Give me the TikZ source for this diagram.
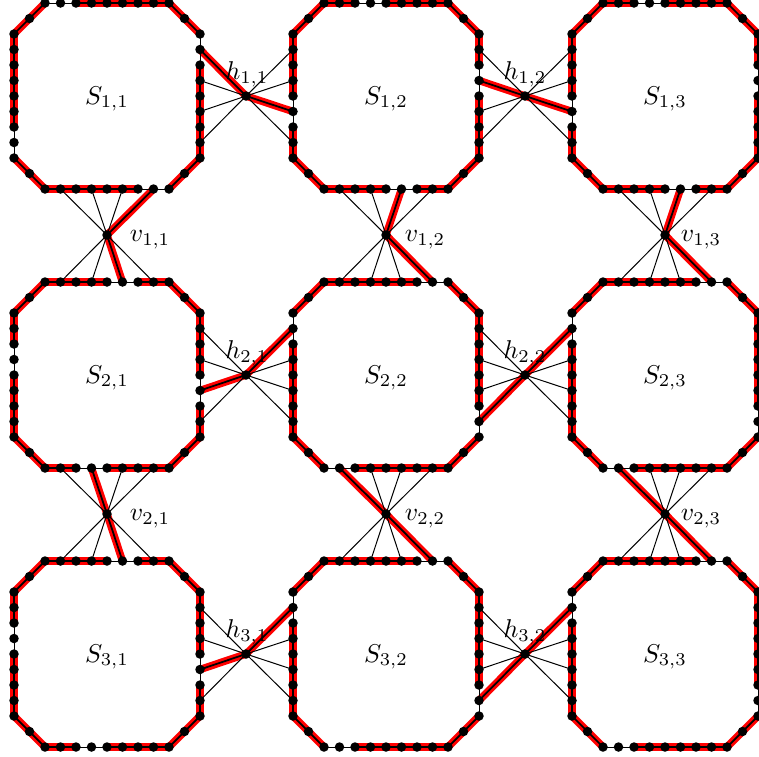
\documentclass[tikz,border=0pt]{standalone}
\usepackage{xcolor}
\usepackage{tikz}
\usetikzlibrary{backgrounds}

%% nine nodes of one side: #1 square, #2 side, #3 first x, #4 first y, #5 dx, #6 dy
\newcommand{\sidenodes}[6]{%
  \foreach \k in {0,...,8} {
    \node[dot] (#1#2\k) at ({#3+#5*\k}, {#4+#6*\k}) {};
  }
}

%% nodes of one octagon: #1 name, #2 centre x, #3 centre y
\newcommand{\octagon}[3]{%
  \sidenodes{#1}{t}{#2-62}{#3-93}{15.5}{0}
  \sidenodes{#1}{r}{#2+93}{#3-62}{0}{15.5}
  \sidenodes{#1}{b}{#2-62}{#3+93}{15.5}{0}
  \sidenodes{#1}{l}{#2-93}{#3-62}{0}{15.5}
  \node[dot] (#1ne) at (#2+77.5, #3-77.5) {};
  \node[dot] (#1se) at (#2+77.5, #3+77.5) {};
  \node[dot] (#1sw) at (#2-77.5, #3+77.5) {};
  \node[dot] (#1nw) at (#2-77.5, #3-77.5) {};
}

%% edges along one side: #1 square, #2 side, #3 node left out of the band
\newcommand{\sideedges}[3]{%
  \foreach \k [evaluate=\k as \m using int(\k+1)] in {0,...,7} {
    \ifnum\k=#3\relax
      \draw[edge] (#1#2\k.center) -- (#1#2\m.center);
    \else\ifnum\m=#3\relax
      \draw[edge] (#1#2\k.center) -- (#1#2\m.center);
    \else
      \draw[link] (#1#2\k.center) -- (#1#2\m.center);
    \fi\fi
  }
}

%% edges of one octagon: #1 name, #2 free node top/right, #3 free node bottom/left
\newcommand{\ring}[3]{%
  \sideedges{#1}{t}{#2}
  \sideedges{#1}{r}{#2}
  \sideedges{#1}{b}{#3}
  \sideedges{#1}{l}{#3}
  \draw[link] (#1t8.center) -- (#1ne.center) -- (#1r0.center);
  \draw[link] (#1r8.center) -- (#1se.center) -- (#1b8.center);
  \draw[link] (#1b0.center) -- (#1sw.center) -- (#1l8.center);
  \draw[link] (#1l0.center) -- (#1nw.center) -- (#1t0.center);
}

%% spokes from a hub: #1 hub, #2 square and side, #3 the picked one
\newcommand{\spokes}[3]{%
  \foreach \k in {1,3,5,7} {
    \ifnum\k=#3\relax
      \draw[link] (#1.center) -- (#2\k.center);
    \else
      \draw[edge] (#1.center) -- (#2\k.center);
    \fi
  }
}

%% every connector of the picture
\newcommand{\allconnectors}{%
  \ring{sa}{1}{7}
  \ring{sb}{3}{5}
  \ring{sc}{3}{5}
  \ring{sd}{5}{3}
  \ring{se}{7}{1}
  \ring{sf}{7}{1}
  \ring{sg}{5}{3}
  \ring{sh}{7}{1}
  \ring{si}{7}{1}
  \spokes{h11}{sar}{1} \spokes{h11}{sbl}{5}
  \spokes{h12}{sbr}{3} \spokes{h12}{scl}{5}
  \spokes{h21}{sdr}{5} \spokes{h21}{sel}{1}
  \spokes{h22}{ser}{7} \spokes{h22}{sfl}{1}
  \spokes{h31}{sgr}{5} \spokes{h31}{shl}{1}
  \spokes{h32}{shr}{7} \spokes{h32}{sil}{1}
  \spokes{v11}{sab}{7} \spokes{v11}{sdt}{5}
  \spokes{v12}{sbb}{5} \spokes{v12}{set}{7}
  \spokes{v13}{scb}{5} \spokes{v13}{sft}{7}
  \spokes{v21}{sdb}{3} \spokes{v21}{sgt}{5}
  \spokes{v22}{seb}{1} \spokes{v22}{sht}{7}
  \spokes{v23}{sfb}{1} \spokes{v23}{sit}{7}
}

\begin{document}
\begin{tikzpicture}[
  x=0.4pt, y=-0.4pt,
  dot/.style={circle, fill=black, minimum size=3.8pt, inner sep=0pt, outer sep=0pt},
  thinline/.style={black, line width=0.4pt},
  band/.style={red, line width=3pt},
  core/.style={black, line width=0.7pt},
  tag/.style={inner sep=0pt, scale=1.03}
]
\useasboundingbox (0,0) rectangle (759,756);

%% Squares
\octagon{sa}{107}{96}
\octagon{sb}{386}{96}
\octagon{sc}{665}{96}
\octagon{sd}{107}{375}
\octagon{se}{386}{375}
\octagon{sf}{665}{375}
\octagon{sg}{107}{654}
\octagon{sh}{386}{654}
\octagon{si}{665}{654}

%% Horizontal hubs
\node[dot] (h11) at (246, 96)  {};
\node[dot] (h12) at (525, 96)  {};
\node[dot] (h21) at (246, 375) {};
\node[dot] (h22) at (525, 375) {};
\node[dot] (h31) at (246, 654) {};
\node[dot] (h32) at (525, 654) {};

%% Vertical hubs
\node[dot] (v11) at (107, 235) {};
\node[dot] (v12) at (386, 235) {};
\node[dot] (v13) at (665, 235) {};
\node[dot] (v21) at (107, 514) {};
\node[dot] (v22) at (386, 514) {};
\node[dot] (v23) at (665, 514) {};

%% Connectors, red first and black over it
\begin{pgfonlayer}{background}
  \begin{scope}[link/.style={band}, edge/.style={draw=none}]
    \allconnectors
  \end{scope}
  \begin{scope}[link/.style={core}, edge/.style={thinline}]
    \allconnectors
  \end{scope}
\end{pgfonlayer}

%% Square labels
\node[tag] (ls11) at (107, 99)  {$S_{1,1}$};
\node[tag] (ls12) at (386, 99)  {$S_{1,2}$};
\node[tag] (ls13) at (665, 99)  {$S_{1,3}$};
\node[tag] (ls21) at (107, 378) {$S_{2,1}$};
\node[tag] (ls22) at (386, 378) {$S_{2,2}$};
\node[tag] (ls23) at (665, 378) {$S_{2,3}$};
\node[tag] (ls31) at (107, 657) {$S_{3,1}$};
\node[tag] (ls32) at (386, 657) {$S_{3,2}$};
\node[tag] (ls33) at (665, 657) {$S_{3,3}$};

%% Hub labels
\node[tag] (lh11) at (247, 74)  {$h_{1,1}$};
\node[tag] (lh12) at (525, 74)  {$h_{1,2}$};
\node[tag] (lh21) at (247, 353) {$h_{2,1}$};
\node[tag] (lh22) at (525, 353) {$h_{2,2}$};
\node[tag] (lh31) at (247, 632) {$h_{3,1}$};
\node[tag] (lh32) at (525, 632) {$h_{3,2}$};
\node[tag] (lv11) at (150, 240) {$v_{1,1}$};
\node[tag] (lv12) at (425, 240) {$v_{1,2}$};
\node[tag] (lv13) at (701, 240) {$v_{1,3}$};
\node[tag] (lv21) at (150, 519) {$v_{2,1}$};
\node[tag] (lv22) at (425, 519) {$v_{2,2}$};
\node[tag] (lv23) at (701, 519) {$v_{2,3}$};

\end{tikzpicture}
\end{document}
